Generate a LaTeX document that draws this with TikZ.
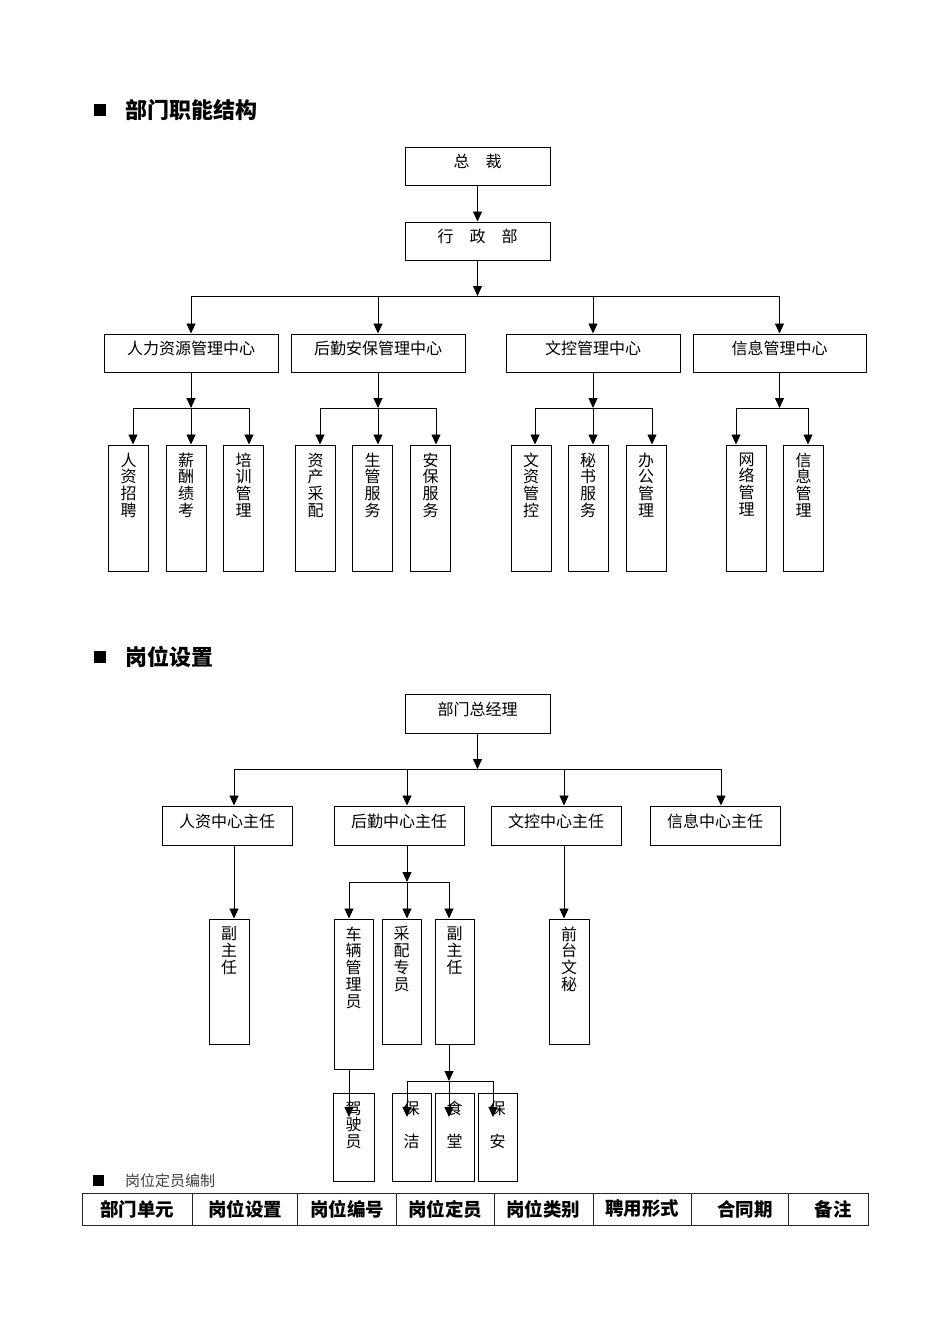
\documentclass[tikz,border=0pt]{standalone}
\usepackage{fontspec}
\setmainfont{Noto Sans CJK SC}
\usetikzlibrary{arrows.meta}
\begin{document}
\begin{tikzpicture}[x=1pt,y=-1pt,
  ln/.style={line width=0.9pt},
  arr/.style={line width=0.9pt,-{Triangle[length=10pt,width=9pt]}},
  bx/.style={draw,line width=1pt,inner sep=0pt},
  lbl/.style={font=\fontsize{16}{17}\selectfont,yshift=4.5pt,inner sep=0pt},
  vlbl/.style={font=\fontsize{16}{16.7}\selectfont,anchor=north,yshift=-8pt,align=center,inner sep=0pt},
  head/.style={font=\fontsize{22}{24}\selectfont\bfseries,anchor=west,inner sep=0pt},
  sq/.style={fill=black,draw=none,minimum size=12pt,inner sep=0pt},
  th/.style={font=\fontsize{18.5}{20}\selectfont\bfseries,inner sep=0pt}
]
\useasboundingbox (0,0) rectangle (950,1344);

% ---------- Section 1 heading
\node[sq] (s1) at (100,110) {};
\node[head] (t1) at (125,110) {部门职能结构};

% ---------- Section 1 chart
\node[bx,minimum width=145pt,minimum height=38pt,label={[lbl]center:总　裁}] (zc) at (477.5,166) {};
\node[bx,minimum width=145pt,minimum height=38pt,label={[lbl]center:行　政　部}] (xz) at (477.5,241) {};
\draw[arr] (zc.south) -- (xz.north);
\coordinate (b1) at (477.5,296);
\coordinate (b1L) at (191,296);
\coordinate (b1R) at (779.5,296);
\draw[arr] (xz.south) -- (b1);
\draw[ln] (b1L) -- (b1R);

\node[bx,minimum width=174pt,minimum height=38pt,label={[lbl]center:人力资源管理中心}] (c1) at (191,353) {};
\node[bx,minimum width=174pt,minimum height=38pt,label={[lbl]center:后勤安保管理中心}] (c2) at (378,353) {};
\node[bx,minimum width=174pt,minimum height=38pt,label={[lbl]center:文控管理中心}] (c3) at (593,353) {};
\node[bx,minimum width=173pt,minimum height=38pt,label={[lbl]center:信息管理中心}] (c4) at (779.5,353) {};
\draw[arr] (b1L) -- (c1.north);
\draw[arr] (c2.north |- b1) -- (c2.north);
\draw[arr] (c3.north |- b1) -- (c3.north);
\draw[arr] (b1R) -- (c4.north);

% HR children
\node[bx,minimum width=40pt,minimum height=126pt,label={[vlbl]north:人\\资\\招\\聘}] (h1) at (128.5,508) {};
\node[bx,minimum width=40pt,minimum height=126pt,label={[vlbl]north:薪\\酬\\绩\\考}] (h2) at (186,508) {};
\node[bx,minimum width=40pt,minimum height=126pt,label={[vlbl]north:培\\训\\管\\理}] (h3) at (243.5,508) {};
\coordinate (hj) at (191,408);
\coordinate (hjL) at (133,408);
\coordinate (hjR) at (249,408);
\draw[arr] (c1.south) -- (hj);
\draw[ln] (hjL) -- (hjR);
\draw[arr] (hjL) -- (hjL |- h1.north);
\draw[arr] (hj) -- (hj |- h2.north);
\draw[arr] (hjR) -- (hjR |- h3.north);

% Logistics children
\node[bx,minimum width=40pt,minimum height=126pt,label={[vlbl]north:资\\产\\采\\配}] (l1) at (315.5,508) {};
\node[bx,minimum width=40pt,minimum height=126pt,label={[vlbl]north:生\\管\\服\\务}] (l2) at (372.5,508) {};
\node[bx,minimum width=40pt,minimum height=126pt,label={[vlbl]north:安\\保\\服\\务}] (l3) at (430.5,508) {};
\coordinate (lj) at (378,408);
\coordinate (ljL) at (320,408);
\coordinate (ljR) at (436,408);
\draw[arr] (c2.south) -- (lj);
\draw[ln] (ljL) -- (ljR);
\draw[arr] (ljL) -- (ljL |- l1.north);
\draw[arr] (lj) -- (lj |- l2.north);
\draw[arr] (ljR) -- (ljR |- l3.north);

% Document control children
\node[bx,minimum width=40pt,minimum height=126pt,label={[vlbl]north:文\\资\\管\\控}] (w1) at (531,508) {};
\node[bx,minimum width=40pt,minimum height=126pt,label={[vlbl]north:秘\\书\\服\\务}] (w2) at (588,508) {};
\node[bx,minimum width=40pt,minimum height=126pt,label={[vlbl]north:办\\公\\管\\理}] (w3) at (646,508) {};
\coordinate (wj) at (593,408);
\coordinate (wjL) at (535,408);
\coordinate (wjR) at (652,408);
\draw[arr] (c3.south) -- (wj);
\draw[ln] (wjL) -- (wjR);
\draw[arr] (wjL) -- (wjL |- w1.north);
\draw[arr] (wj) -- (wj |- w2.north);
\draw[arr] (wjR) -- (wjR |- w3.north);

% Information children
\node[bx,minimum width=40pt,minimum height=126pt,label={[vlbl]north:网\\络\\管\\理}] (x1) at (746.5,508) {};
\node[bx,minimum width=40pt,minimum height=126pt,label={[vlbl]north:信\\息\\管\\理}] (x2) at (803.5,508) {};
\coordinate (xj) at (779.5,408);
\coordinate (xjL) at (736,408);
\coordinate (xjR) at (808,408);
\draw[arr] (c4.south) -- (xj);
\draw[ln] (xjL) -- (xjR);
\draw[arr] (xjL) -- (xjL |- x1.north);
\draw[arr] (xjR) -- (xjR |- x2.north);

% ---------- Section 2 heading
\node[sq] (s2) at (100,657) {};
\node[head] (t2) at (125,657) {岗位设置};

% ---------- Section 2 chart
\node[bx,minimum width=145pt,minimum height=39pt,label={[lbl]center:部门总经理}] (gm) at (477.5,713.5) {};
\coordinate (b2) at (477.5,769);
\coordinate (b2L) at (234,769);
\coordinate (b2R) at (721,769);
\draw[arr] (gm.south) -- (b2);
\draw[ln] (b2L) -- (b2R);

\node[bx,minimum width=130pt,minimum height=39pt,label={[lbl]center:人资中心主任}] (m1) at (227,825.5) {};
\node[bx,minimum width=130pt,minimum height=39pt,label={[lbl]center:后勤中心主任}] (m2) at (399,825.5) {};
\node[bx,minimum width=130pt,minimum height=39pt,label={[lbl]center:文控中心主任}] (m3) at (556,825.5) {};
\node[bx,minimum width=130pt,minimum height=39pt,label={[lbl]center:信息中心主任}] (m4) at (715,825.5) {};
\coordinate (b2a) at (407,769);
\coordinate (b2b) at (564,769);
\draw[arr] (b2L) -- (b2L |- m1.north);
\draw[arr] (b2a) -- (b2a |- m2.north);
\draw[arr] (b2b) -- (b2b |- m3.north);
\draw[arr] (b2R) -- (b2R |- m4.north);

% HR director children
\node[bx,minimum width=40pt,minimum height=125pt,label={[vlbl]north:副\\主\\任}] (f1) at (229,981.5) {};
\coordinate (m1s) at (234,845);
\draw[arr] (m1s) -- (m1s |- f1.north);

% Logistics director children
\node[bx,minimum width=39pt,minimum height=150pt,label={[vlbl]north:车\\辆\\管\\理\\员}] (cl) at (353.5,994) {};
\node[bx,minimum width=39pt,minimum height=125pt,label={[vlbl]north:采\\配\\专\\员}] (cp) at (401.5,981.5) {};
\node[bx,minimum width=39pt,minimum height=125pt,label={[vlbl]north:副\\主\\任}] (f2) at (454.5,981.5) {};
\coordinate (m2s) at (407,845);
\coordinate (gj) at (407,882);
\coordinate (gjL) at (349,882);
\coordinate (gjR) at (449,882);
\draw[arr] (m2s) -- (gj);
\draw[ln] (gjL) -- (gjR);
\draw[arr] (gjL) -- (gjL |- cl.north);
\draw[arr] (gj) -- (gj |- cp.north);
\draw[arr] (gjR) -- (gjR |- f2.north);

% Document control director children
\node[bx,minimum width=40pt,minimum height=125pt,label={[vlbl]north:前\\台\\文\\秘}] (qt) at (569,981.5) {};
\coordinate (m3s) at (564,845);
\draw[arr] (m3s) -- (m3s |- qt.north);

% Third level
\node[bx,minimum width=41pt,minimum height=88pt,label={[vlbl]north:驾\\驶\\员}] (js) at (353.5,1137) {};
\node[bx,minimum width=39pt,minimum height=88pt,label={[vlbl]north:保\\[16.7pt]洁}] (bj) at (411.5,1137) {};
\node[bx,minimum width=39pt,minimum height=88pt,label={[vlbl]north:食\\[16.7pt]堂}] (st) at (454.5,1137) {};
\node[bx,minimum width=39pt,minimum height=88pt,label={[vlbl]north:保\\[16.7pt]安}] (ba) at (497.5,1137) {};
\coordinate (cls) at (349,1069);
\coordinate (jsT) at (349,1117);
\draw[arr] (cls) -- (jsT);
\coordinate (f2s) at (449,1044);
\coordinate (kj) at (449,1081);
\coordinate (kjL) at (407,1081);
\coordinate (kjR) at (493,1081);
\coordinate (kL) at (407,1117);
\coordinate (kM) at (449,1117);
\coordinate (kR) at (493,1117);
\draw[arr] (f2s) -- (kj);
\draw[ln] (kjL) -- (kjR);
\draw[arr] (kjL) -- (kL);
\draw[arr] (kj) -- (kM);
\draw[arr] (kjR) -- (kR);

% ---------- Section 3 heading
\node[sq,minimum size=11pt] (s3) at (98.5,1180.5) {};
\node[anchor=west,inner sep=0pt,font=\fontsize{15}{16}\selectfont,text=black!75] (t3) at (125,1181) {岗位定员编制};

% ---------- Table
\draw[line width=1pt,draw=black!85] (82,1193) rectangle (868,1225);
\foreach \xx in {192,297,396,494,593,691,788}
  \draw[line width=1pt,draw=black!85] (\xx,1193) -- (\xx,1225);
\node[th] (k1) at (137,1209) {部门单元};
\node[th] (k2) at (245,1209) {岗位设置};
\node[th] (k3) at (347,1209) {岗位编号};
\node[th] (k4) at (445,1209) {岗位定员};
\node[th] (k5) at (543,1209) {岗位类别};
\node[th] (k6) at (642,1209) {聘用形式};
\node[th] (k7) at (745,1209) {合同期};
\node[th] (k8) at (833,1209) {备注};
\end{tikzpicture}
\end{document}
